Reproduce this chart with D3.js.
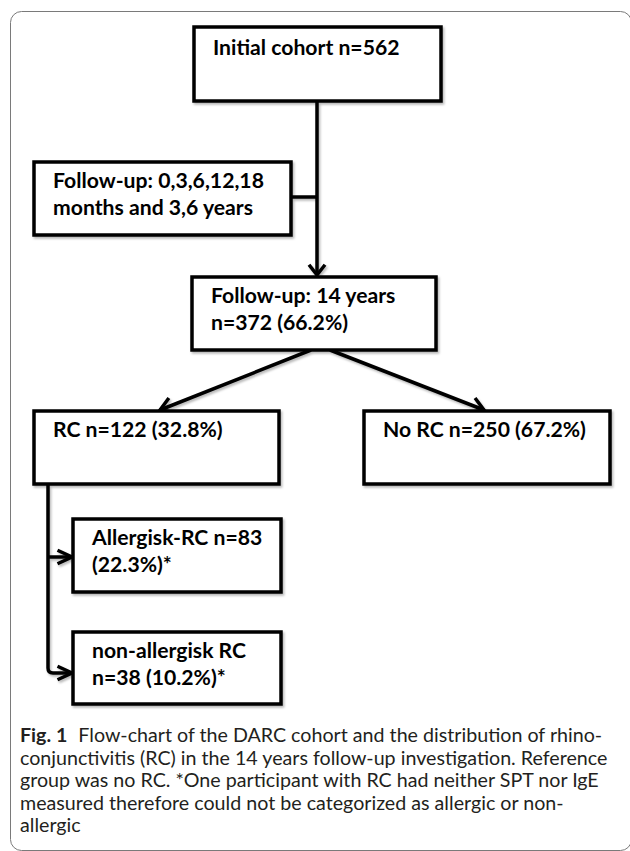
<!DOCTYPE html>
<html>
<head>
<meta charset="utf-8">
<script src="https://cdn.jsdelivr.net/npm/d3@7"></script>
<style>
  html, body { margin: 0; padding: 0; background: #fff; }
  svg { display: block; }
</style>
</head>
<body>
<svg id="chart" width="630" height="851"></svg>
<script>
// ---------- data ----------
const stageNames   = ["Initial cohort", "Follow-up", "Follow-up: 14 years", "RC", "No RC", "Allergisk-RC", "non-allergisk RC"];
const stageCounts  = [562, null, 372, 122, 250, 83, 38];
const stagePercents = [null, null, 66.2, 32.8, 67.2, 22.3, 10.2];
const earlyMonths  = [0, 3, 6, 12, 18];
const earlyYears   = [3, 6];
const captionLabel = "Fig. 1";
const captionLines = [
  "Flow-chart of the DARC cohort and the distribution of rhino-",
  "conjunctivitis (RC) in the 14 years follow-up investigation. Reference",
  "group was no RC. *One participant with RC had neither SPT nor IgE",
  "measured therefore could not be categorized as allergic or non-",
  "allergic"
];

// ---------- labels built from data ----------
const pct = v => "(" + v.toFixed(1) + "%)";
const boxText = [
  [stageNames[0] + " n=" + stageCounts[0]],
  [stageNames[1] + ": " + earlyMonths.join(","), "months and " + earlyYears.join(",") + " years"],
  [stageNames[2], "n=" + stageCounts[2] + " " + pct(stagePercents[2])],
  [stageNames[3] + " n=" + stageCounts[3] + " " + pct(stagePercents[3])],
  [stageNames[4] + " n=" + stageCounts[4] + " " + pct(stagePercents[4])],
  [stageNames[5] + " n=" + stageCounts[5], pct(stagePercents[5]) + "*"],
  [stageNames[6], "n=" + stageCounts[6] + " " + pct(stagePercents[6]) + "*"]
];

// ---------- layout (pixels) ----------
const layout = [
  {x:194, y:27,  w:247, h:74},
  {x:34,  y:162, w:257, h:73},
  {x:192, y:277, w:244, h:73},
  {x:34,  y:411, w:245, h:73},
  {x:364, y:411, w:246, h:73},
  {x:73,  y:519, w:208, h:73},
  {x:73,  y:632, w:208, h:72}
];
const targetWidths = [[186],[215,207],[188,138],[169],[203],[167,73],[154,138]];

const svg = d3.select("#chart");
const defs = svg.append("defs");
const f = defs.append("filter").attr("id","sh").attr("x","-10%").attr("y","-10%").attr("width","130%").attr("height","130%");
f.append("feDropShadow").attr("dx",1.5).attr("dy",2).attr("stdDeviation",1.2)
  .attr("flood-color","#000").attr("flood-opacity",0.28);

// outer frame
svg.append("rect")
  .attr("x",10.5).attr("y",11.5).attr("width",621).attr("height",839)
  .attr("rx",11).attr("ry",11)
  .attr("fill","none").attr("stroke","#7a7a7a").attr("stroke-width",1);

const g = svg.append("g").attr("filter","url(#sh)");
const SW = 3.5;

// connectors
const line = d3.line();
function chevron(tip, from, len, ang) {
  const a = Math.atan2(from[1]-tip[1], from[0]-tip[0]);
  const r = ang*Math.PI/180;
  const p1 = [tip[0]+len*Math.cos(a+r), tip[1]+len*Math.sin(a+r)];
  const p2 = [tip[0]+len*Math.cos(a-r), tip[1]+len*Math.sin(a-r)];
  return line([p1, tip, p2]);
}
const B = layout;
const cx0 = 317;
const conns = [
  {d: line([[cx0, B[0].y+B[0].h], [cx0, B[2].y-2]]), arrow: [[cx0, B[2].y-2],[cx0, 200]], len: 13, ang: 38},
  {d: line([[B[1].x+B[1].w, 197], [cx0, 197]])},
  {d: line([[311, B[2].y+B[2].h], [160, B[3].y-1]]), arrow: [[160, B[3].y-1],[311, B[2].y+B[2].h]], len: 15, ang: 32},
  {d: line([[330, B[2].y+B[2].h], [484, B[4].y-1]]), arrow: [[484, B[4].y-1],[330, B[2].y+B[2].h]], len: 15, ang: 32},
  {d: "M48," + (B[3].y+B[3].h) + "V668Q48,673 53,673H" + (B[6].x-1), arrow: [[B[6].x-1, 673],[40,673]], len: 16, ang: 25},
  {d: line([[48, 557], [B[5].x-1, 557]]), arrow: [[B[5].x-1, 557],[40,557]], len: 16, ang: 25}
];
conns.forEach(c => {
  g.append("path").attr("d", c.d).attr("fill","none").attr("stroke","#000").attr("stroke-width",SW);
  if (c.arrow) g.append("path").attr("d", chevron(c.arrow[0], c.arrow[1], c.len, c.ang))
    .attr("fill","none").attr("stroke","#000").attr("stroke-width",SW).attr("stroke-linejoin","miter");
});

// boxes
g.selectAll("rect.box").data(layout).join("rect").attr("class","box")
  .attr("x", d => d.x).attr("y", d => d.y).attr("width", d => d.w).attr("height", d => d.h)
  .attr("fill","#fff").attr("stroke","#000").attr("stroke-width",SW);

// box text, auto-fitted font size
const FONT = "Lato, 'Open Sans', sans-serif";
const tg = svg.append("g");
const texts = [];
boxText.forEach((lines, i) => {
  lines.forEach((t, j) => {
    const el = tg.append("text")
      .attr("x", layout[i].x + 19)
      .attr("y", layout[i].y + (i === 0 ? 28 : 26) + j*27)
      .attr("font-family", FONT).attr("font-weight", 700).attr("font-size", 20)
      .attr("fill","#000").text(t);
    texts.push({el, target: targetWidths[i][j]});
  });
});
const ratios = texts.map(o => o.target / o.el.node().getComputedTextLength()).sort((a,b)=>a-b);
const fs = 20 * d3.median(ratios);
texts.forEach(o => o.el.attr("font-size", fs));

// caption
const cap = svg.append("g");
const capEls = captionLines.map((t, i) => {
  const el = cap.append("text").attr("x", 20).attr("y", 742 + i*22.5)
    .attr("font-family", FONT).attr("font-size", 18).attr("fill", "#231f20");
  if (i === 0) {
    el.append("tspan").attr("font-weight", 700).text(captionLabel);
    el.append("tspan").attr("dx", 11).text(t);
  } else el.text(t);
  return el;
});
const cw = capEls[1].node().getComputedTextLength();
const cfs = 18 * 588 / cw;
capEls.forEach(el => el.attr("font-size", cfs));
</script>
</body>
</html>
